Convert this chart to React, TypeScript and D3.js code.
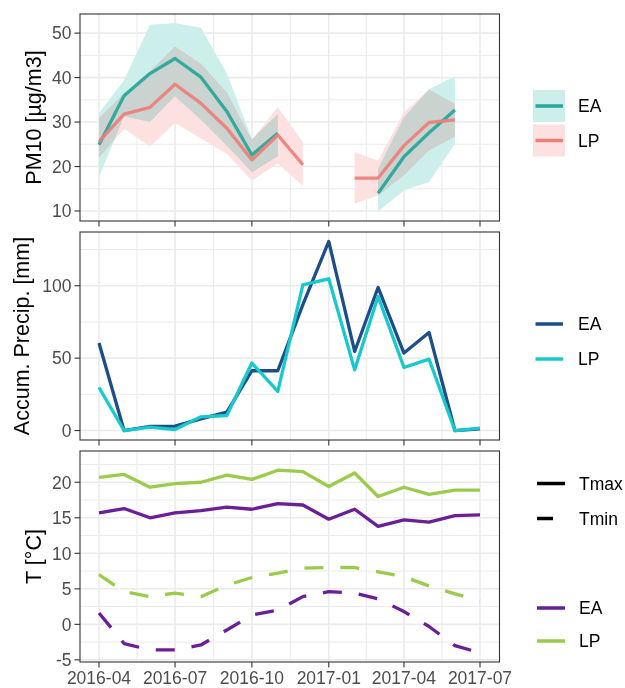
import React from "react";
import * as d3 from "d3";

const months = ["2016-04","2016-05","2016-06","2016-07","2016-08","2016-09","2016-10","2016-11","2016-12","2017-01","2017-02","2017-03","2017-04","2017-05","2017-06","2017-07"];
const xTickLabels = ["2016-04","2016-07","2016-10","2017-01","2017-04","2017-07"];

// PM10 (µg/m3)
const pm10EA   = [24.9, 35.9, 40.9, 44.3, 40.1, 32.4, 22.6, 27.5, null, null, null, 14.0, 22.2, 27.6, 32.7, null];
const pm10EAlo = [17.6, 31.3, 30.0, 35.8, 30.5, 24.7, 18.7, 22.3, null, null, null, 9.9, 14.6, 16.5, 25.1, null];
const pm10EAhi = [32.0, 39.4, 51.9, 52.3, 51.2, 41.0, 26.2, 31.8, null, null, null, 19.5, 31.1, 37.4, 40.3, null];
const pm10LP   = [25.6, 31.8, 33.3, 38.5, 34.2, 28.6, 21.5, 27.1, 20.4, null, 17.4, 17.4, 24.7, 29.9, 30.5, null];
const pm10LPlo = [22.0, 28.5, 24.5, 29.8, 26.3, 22.8, 16.8, 20.7, 15.7, null, 11.7, 13.5, 18.0, 23.6, 26.7, null];
const pm10LPhi = [30.9, 36.5, 41.5, 47.0, 43.1, 36.7, 26.0, 33.4, 25.5, null, 23.2, 21.3, 32.2, 37.3, 34.1, null];

// Accumulated precipitation (mm)
const precipEA = [60.4, 0, 2.8, 3.0, 8.0, 12.7, 41.3, 41.3, 87.0, 130.6, 54.6, 98.8, 53.5, 67.7, 0, 1.2];
const precipLP = [29.7, 0, 2.3, 0.7, 9.5, 10.4, 46.6, 27.0, 100.6, 104.8, 41.9, 92.6, 43.5, 49.3, 0, 1.6];

// Temperature (°C)
const tmaxEA = [15.7, 16.3, 15.0, 15.7, 16.0, 16.5, 16.2, 17.0, 16.8, 14.8, 16.2, 13.8, 14.7, 14.4, 15.3, 15.4];
const tmaxLP = [20.7, 21.1, 19.3, 19.8, 20.0, 21.0, 20.4, 21.7, 21.5, 19.4, 21.3, 18.0, 19.3, 18.3, 18.9, 18.9];
const tminEA = [1.6, -2.7, -3.6, -3.6, -2.9, -0.8, 1.3, 2.0, 3.9, 4.6, 4.4, 3.6, 1.8, -0.3, -3.0, -4.0];
const tminLP = [7.0, 4.6, 3.9, 4.4, 3.9, 5.5, 6.6, 7.2, 7.9, 8.0, 8.0, 7.4, 6.7, 5.4, 4.3, 3.3];

const pmTicks = [10, 20, 30, 40, 50];
const precipTicks = [0, 50, 100];
const tTicks = [-5, 0, 5, 10, 15, 20];

const FONT = "'Liberation Sans', Arial, Helvetica, sans-serif";
const TICK_FS = 17.5;
const TITLE_FS = 21.5;
const LEG_FS = 17.5;

const parse = d3.utcParse("%Y-%m");
const dates = months.map((m) => parse(m) as Date);
const tickDates = xTickLabels.map((m) => parse(m) as Date);

const x = d3.scaleUtc().domain([tickDates[0], tickDates[tickDates.length - 1]]).range([99, 480]);
const PL = 80, PR = 499.5;

const minorX: Date[] = [];
for (let i = 0; i < tickDates.length - 1; i++) {
  minorX.push(new Date((tickDates[i].getTime() + tickDates[i + 1].getTime()) / 2));
}

const C = {
  pmEA: "#26A69A", pmLP: "#EE7E79",
  pmEAfill: "#CDEFEC", pmLPfill: "#FCE1E0",
  prEA: "#1D4E89", prLP: "#17C8CC",
  tEA: "#6A1F98", tLP: "#9ACB4A",
  grid: "#EBEBEB", border: "#333333", tick: "#4D4D4D",
};

type Num = number | null;

function Panel(props: {
  top: number; bottom: number; domain: [number, number]; ticks: number[];
  title: string; titleX: number; children: (y: d3.ScaleLinear<number, number>) => React.ReactNode;
}) {
  const { top, bottom, domain, ticks, title, titleX } = props;
  const y = d3.scaleLinear().domain(domain).range([bottom, top]);
  const minorY: number[] = [];
  const step = ticks[1] - ticks[0];
  for (let v = ticks[0] - step / 2; v <= domain[1]; v += step) {
    if (v >= domain[0] && !ticks.includes(v)) minorY.push(v);
  }
  const clipId = "clip" + top;
  return (
    <g>
      <defs>
        <clipPath id={clipId}><rect x={PL} y={top} width={PR - PL} height={bottom - top} /></clipPath>
      </defs>
      {minorY.map((v) => (
        <line key={"my" + v} x1={PL} x2={PR} y1={y(v)} y2={y(v)} stroke={C.grid} strokeWidth={1} />
      ))}
      {minorX.map((d, i) => (
        <line key={"mx" + i} x1={x(d)} x2={x(d)} y1={top} y2={bottom} stroke={C.grid} strokeWidth={1} />
      ))}
      {ticks.map((v) => (
        <line key={"gy" + v} x1={PL} x2={PR} y1={y(v)} y2={y(v)} stroke={C.grid} strokeWidth={1.6} />
      ))}
      {tickDates.map((d, i) => (
        <line key={"gx" + i} x1={x(d)} x2={x(d)} y1={top} y2={bottom} stroke={C.grid} strokeWidth={1.6} />
      ))}
      <g clipPath={`url(#${clipId})`}>{props.children(y)}</g>
      <rect x={PL} y={top} width={PR - PL} height={bottom - top} fill="none" stroke={C.border} strokeWidth={1.1} />
      {ticks.map((v) => (
        <g key={"t" + v}>
          <line x1={PL - 5.5} x2={PL} y1={y(v)} y2={y(v)} stroke={C.border} strokeWidth={1.1} />
          <text x={PL - 8.5} y={y(v)} dy="0.36em" textAnchor="end" fontSize={TICK_FS} fill={C.tick} fontFamily={FONT}>{v}</text>
        </g>
      ))}
      {tickDates.map((d, i) => (
        <line key={"tx" + i} x1={x(d)} x2={x(d)} y1={bottom} y2={bottom + 5.5} stroke={C.border} strokeWidth={1.1} />
      ))}
      <text transform={`translate(${titleX},${(top + bottom) / 2}) rotate(-90)`} textAnchor="middle" fontSize={TITLE_FS} fontFamily={FONT} fill="#000">{title}</text>
    </g>
  );
}

function lineGen(y: d3.ScaleLinear<number, number>, vals: Num[]) {
  return d3.line<number>()
    .defined((i) => vals[i] != null)
    .x((i) => x(dates[i]))
    .y((i) => y(vals[i] as number))(vals.map((_, i) => i)) || "";
}
function areaGen(y: d3.ScaleLinear<number, number>, lo: Num[], hi: Num[]) {
  return d3.area<number>()
    .defined((i) => lo[i] != null && hi[i] != null)
    .x((i) => x(dates[i]))
    .y0((i) => y(lo[i] as number))
    .y1((i) => y(hi[i] as number))(lo.map((_, i) => i)) || "";
}

export default function App() {
  const lw = 3.3;
  return (
    <svg width={625} height={688} style={{ position: "absolute", left: 0, top: 0, background: "#fff" }} fontFamily={FONT}>
      <rect x={0} y={0} width={625} height={688} fill="#fff" />
      <Panel top={14} bottom={221} domain={[7.75, 54.3]} ticks={pmTicks} title="PM10 [µg/m3]" titleX={40.5}>
        {(y) => (
          <g>
            <path d={areaGen(y, pm10EAlo, pm10EAhi)} fill={C.pmEAfill} style={{ mixBlendMode: "multiply" }} />
            <path d={areaGen(y, pm10LPlo, pm10LPhi)} fill={C.pmLPfill} style={{ mixBlendMode: "multiply" }} />
            <path d={lineGen(y, pm10EA)} fill="none" stroke={C.pmEA} strokeWidth={lw} strokeLinejoin="round" opacity={0.92} />
            <path d={lineGen(y, pm10LP)} fill="none" stroke={C.pmLP} strokeWidth={lw} strokeLinejoin="round" opacity={0.92} />
          </g>
        )}
      </Panel>
      <Panel top={232} bottom={440} domain={[-6.53, 137.1]} ticks={precipTicks} title="Accum. Precip. [mm]" titleX={28.5}>
        {(y) => (
          <g>
            <path d={lineGen(y, precipEA)} fill="none" stroke={C.prEA} strokeWidth={lw} strokeLinejoin="round" />
            <path d={lineGen(y, precipLP)} fill="none" stroke={C.prLP} strokeWidth={lw} strokeLinejoin="round" />
          </g>
        )}
      </Panel>
      <Panel top={451} bottom={662} domain={[-5.3, 24.4]} ticks={tTicks} title="T [°C]" titleX={40.5}>
        {(y) => (
          <g>
            <path d={lineGen(y, tmaxEA)} fill="none" stroke={C.tEA} strokeWidth={lw} strokeLinejoin="round" />
            <path d={lineGen(y, tmaxLP)} fill="none" stroke={C.tLP} strokeWidth={lw} strokeLinejoin="round" />
            <path d={lineGen(y, tminEA)} fill="none" stroke={C.tEA} strokeWidth={lw} strokeLinejoin="round" strokeDasharray="19 17" />
            <path d={lineGen(y, tminLP)} fill="none" stroke={C.tLP} strokeWidth={lw} strokeLinejoin="round" strokeDasharray="19 17" />
          </g>
        )}
      </Panel>
      {/* x tick labels */}
      {tickDates.map((d, i) => (
        <text key={"xl" + i} x={x(d)} y={684} textAnchor="middle" fontSize={TICK_FS} fill={C.tick} fontFamily={FONT}>{xTickLabels[i]}</text>
      ))}
      {/* Legend 1 */}
      <g>
        <rect x={533} y={90} width={32} height={32} fill={C.pmEAfill} />
        <line x1={535.5} x2={563} y1={106} y2={106} stroke={C.pmEA} strokeWidth={3.5} />
        <text x={578} y={106} dy="0.36em" fontSize={LEG_FS} fontFamily={FONT}>EA</text>
        <rect x={533} y={124.5} width={32} height={32} fill={C.pmLPfill} />
        <line x1={535.5} x2={563} y1={140.5} y2={140.5} stroke={C.pmLP} strokeWidth={3.5} />
        <text x={578} y={140.5} dy="0.36em" fontSize={LEG_FS} fontFamily={FONT}>LP</text>
      </g>
      {/* Legend 2 */}
      <g>
        <line x1={535.5} x2={563} y1={324} y2={324} stroke={C.prEA} strokeWidth={3.5} />
        <text x={578} y={324} dy="0.36em" fontSize={LEG_FS} fontFamily={FONT}>EA</text>
        <line x1={535.5} x2={563} y1={359} y2={359} stroke={C.prLP} strokeWidth={3.5} />
        <text x={578} y={359} dy="0.36em" fontSize={LEG_FS} fontFamily={FONT}>LP</text>
      </g>
      {/* Legend 3 */}
      <g>
        <line x1={537} x2={565} y1={483.5} y2={483.5} stroke="#000" strokeWidth={3.5} />
        <text x={579} y={483.5} dy="0.36em" fontSize={LEG_FS} fontFamily={FONT}>Tmax</text>
        <line x1={537} x2={565} y1={518.5} y2={518.5} stroke="#000" strokeWidth={3.5} strokeDasharray="16 20" />
        <text x={579} y={518.5} dy="0.36em" fontSize={LEG_FS} fontFamily={FONT}>Tmin</text>
        <line x1={537} x2={565} y1={608} y2={608} stroke={C.tEA} strokeWidth={3.5} />
        <text x={579} y={608} dy="0.36em" fontSize={LEG_FS} fontFamily={FONT}>EA</text>
        <line x1={537} x2={565} y1={641} y2={641} stroke={C.tLP} strokeWidth={3.5} />
        <text x={579} y={641} dy="0.36em" fontSize={LEG_FS} fontFamily={FONT}>LP</text>
      </g>
    </svg>
  );
}
